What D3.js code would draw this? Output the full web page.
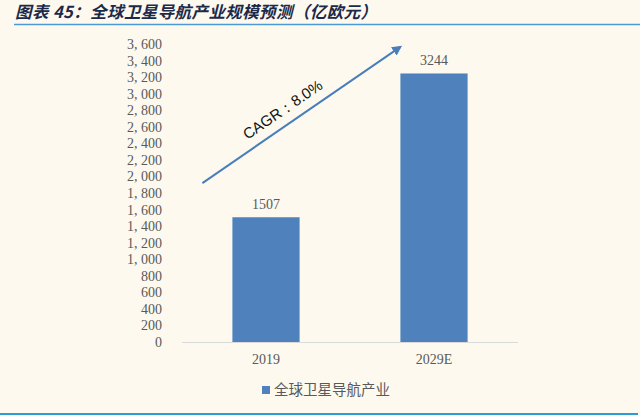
<!DOCTYPE html>
<html>
<head>
<meta charset="utf-8">
<script src="https://cdn.jsdelivr.net/npm/d3@7"></script>
<style>
  html, body { margin: 0; padding: 0; background: #fdf9ef; }
  svg { display: block; }
</style>
</head>
<body>
<script>
// data
var categories = ["2019", "2029E"];
var values = [1507, 3244];
var yTicks = d3.range(0, 3601, 200);
var seriesName = "全球卫星导航产业";
var titleText = "图表 45：全球卫星导航产业规模预测（亿欧元）";
var cagrText = "CAGR：8.0%";
// arrow drawn in data space: [value at start, value at end]
var arrowValues = [1920, 3565];

var width = 640, height = 416;
var svg = d3.select("body").append("svg")
    .attr("width", width)
    .attr("height", height);

svg.append("rect").attr("width", width).attr("height", height).attr("fill", "#fdf9ef");

// title + rules
svg.append("text")
    .attr("x", 15).attr("y", 18)
    .attr("font-family", "'Noto Sans CJK SC', sans-serif")
    .attr("font-size", 16.5).attr("font-weight", "bold").attr("font-style", "italic")
    .attr("letter-spacing", 0.4)
    .attr("fill", "#1b2a4a")
    .text(titleText);
svg.append("line").attr("x1", 14).attr("x2", 640).attr("y1", 24.5).attr("y2", 24.5)
    .attr("stroke", "#4a9ad8").attr("stroke-width", 1.5);
svg.append("line").attr("x1", 0).attr("x2", 638).attr("y1", 414).attr("y2", 414)
    .attr("stroke", "#2b9bd8").attr("stroke-width", 2);

var x = d3.scaleBand().domain(categories).range([182, 518]).paddingInner(0.6).paddingOuter(0.3);
var y = d3.scaleLinear().domain([0, 3600]).range([342, 44]);

var serif = "'Liberation Serif', 'DejaVu Serif', serif";

// y axis (labels only)
var fmt = d3.format(",");
var yAxis = svg.append("g")
    .attr("transform", "translate(182,0)")
    .call(d3.axisLeft(y).tickValues(yTicks).tickSize(0).tickPadding(20)
        .tickFormat(function (d) { return fmt(d).replace(",", ", "); }));
yAxis.select(".domain").remove();
yAxis.selectAll("text")
    .attr("font-family", serif).attr("font-size", 14).attr("fill", "#595959");

// x baseline + labels
svg.append("line").attr("x1", 182).attr("x2", 518).attr("y1", y(0) + 0.5).attr("y2", y(0) + 0.5)
    .attr("stroke", "#d9d9d9").attr("stroke-width", 1);
var xAxis = svg.append("g")
    .attr("transform", "translate(0," + y(0) + ")")
    .call(d3.axisBottom(x).tickSize(0).tickPadding(12));
xAxis.select(".domain").remove();
xAxis.selectAll("text")
    .attr("font-family", serif).attr("font-size", 14).attr("fill", "#595959");

// bars
svg.selectAll(".bar")
    .data(values)
    .enter().append("rect")
    .attr("class", "bar")
    .attr("x", function (d, i) { return x(categories[i]); })
    .attr("y", function (d) { return y(d); })
    .attr("width", x.bandwidth())
    .attr("height", function (d) { return y(0) - y(d); })
    .attr("fill", "#4f81bd");

svg.selectAll(".val")
    .data(values)
    .enter().append("text")
    .attr("class", "val")
    .attr("x", function (d, i) { return x(categories[i]) + x.bandwidth() / 2; })
    .attr("y", function (d) { return y(d) - 8; })
    .attr("text-anchor", "middle")
    .attr("font-family", serif).attr("font-size", 14).attr("fill", "#595959")
    .text(function (d) { return d; });

// CAGR arrow
var defs = svg.append("defs");
defs.append("marker")
    .attr("id", "ah")
    .attr("viewBox", "0 0 10 10")
    .attr("refX", 8).attr("refY", 5)
    .attr("markerWidth", 5).attr("markerHeight", 5)
    .attr("orient", "auto")
    .append("path").attr("d", "M0,0L10,5L0,10z").attr("fill", "#4a7ebb");

var ax1 = x(categories[0]) - 30, ay1 = y(arrowValues[0]);
var ax2 = x(categories[1]), ay2 = y(arrowValues[1]);
svg.append("line")
    .attr("x1", ax1).attr("y1", ay1).attr("x2", ax2).attr("y2", ay2)
    .attr("stroke", "#4a7ebb").attr("stroke-width", 2)
    .attr("marker-end", "url(#ah)");

var ang = Math.atan2(ay2 - ay1, ax2 - ax1) * 180 / Math.PI;
svg.append("text")
    .attr("transform", "translate(" + (ax1 + (ax2 - ax1) * 0.42) + "," + (ay1 + (ay2 - ay1) * 0.42 - 12) + ") rotate(" + ang + ")")
    .attr("text-anchor", "middle")
    .attr("font-family", "'Liberation Sans', Arial, sans-serif")
    .attr("font-size", 15).attr("fill", "#111")
    .text(cagrText);

// legend
var lg = svg.append("g").attr("transform", "translate(262,386)");
lg.append("rect").attr("width", 8).attr("height", 8).attr("fill", "#4f81bd");
lg.append("text")
    .attr("x", 12).attr("y", 9)
    .attr("font-family", "'Noto Sans CJK SC', sans-serif")
    .attr("font-size", 14.5).attr("fill", "#595959")
    .text(seriesName);
</script>
</body>
</html>
